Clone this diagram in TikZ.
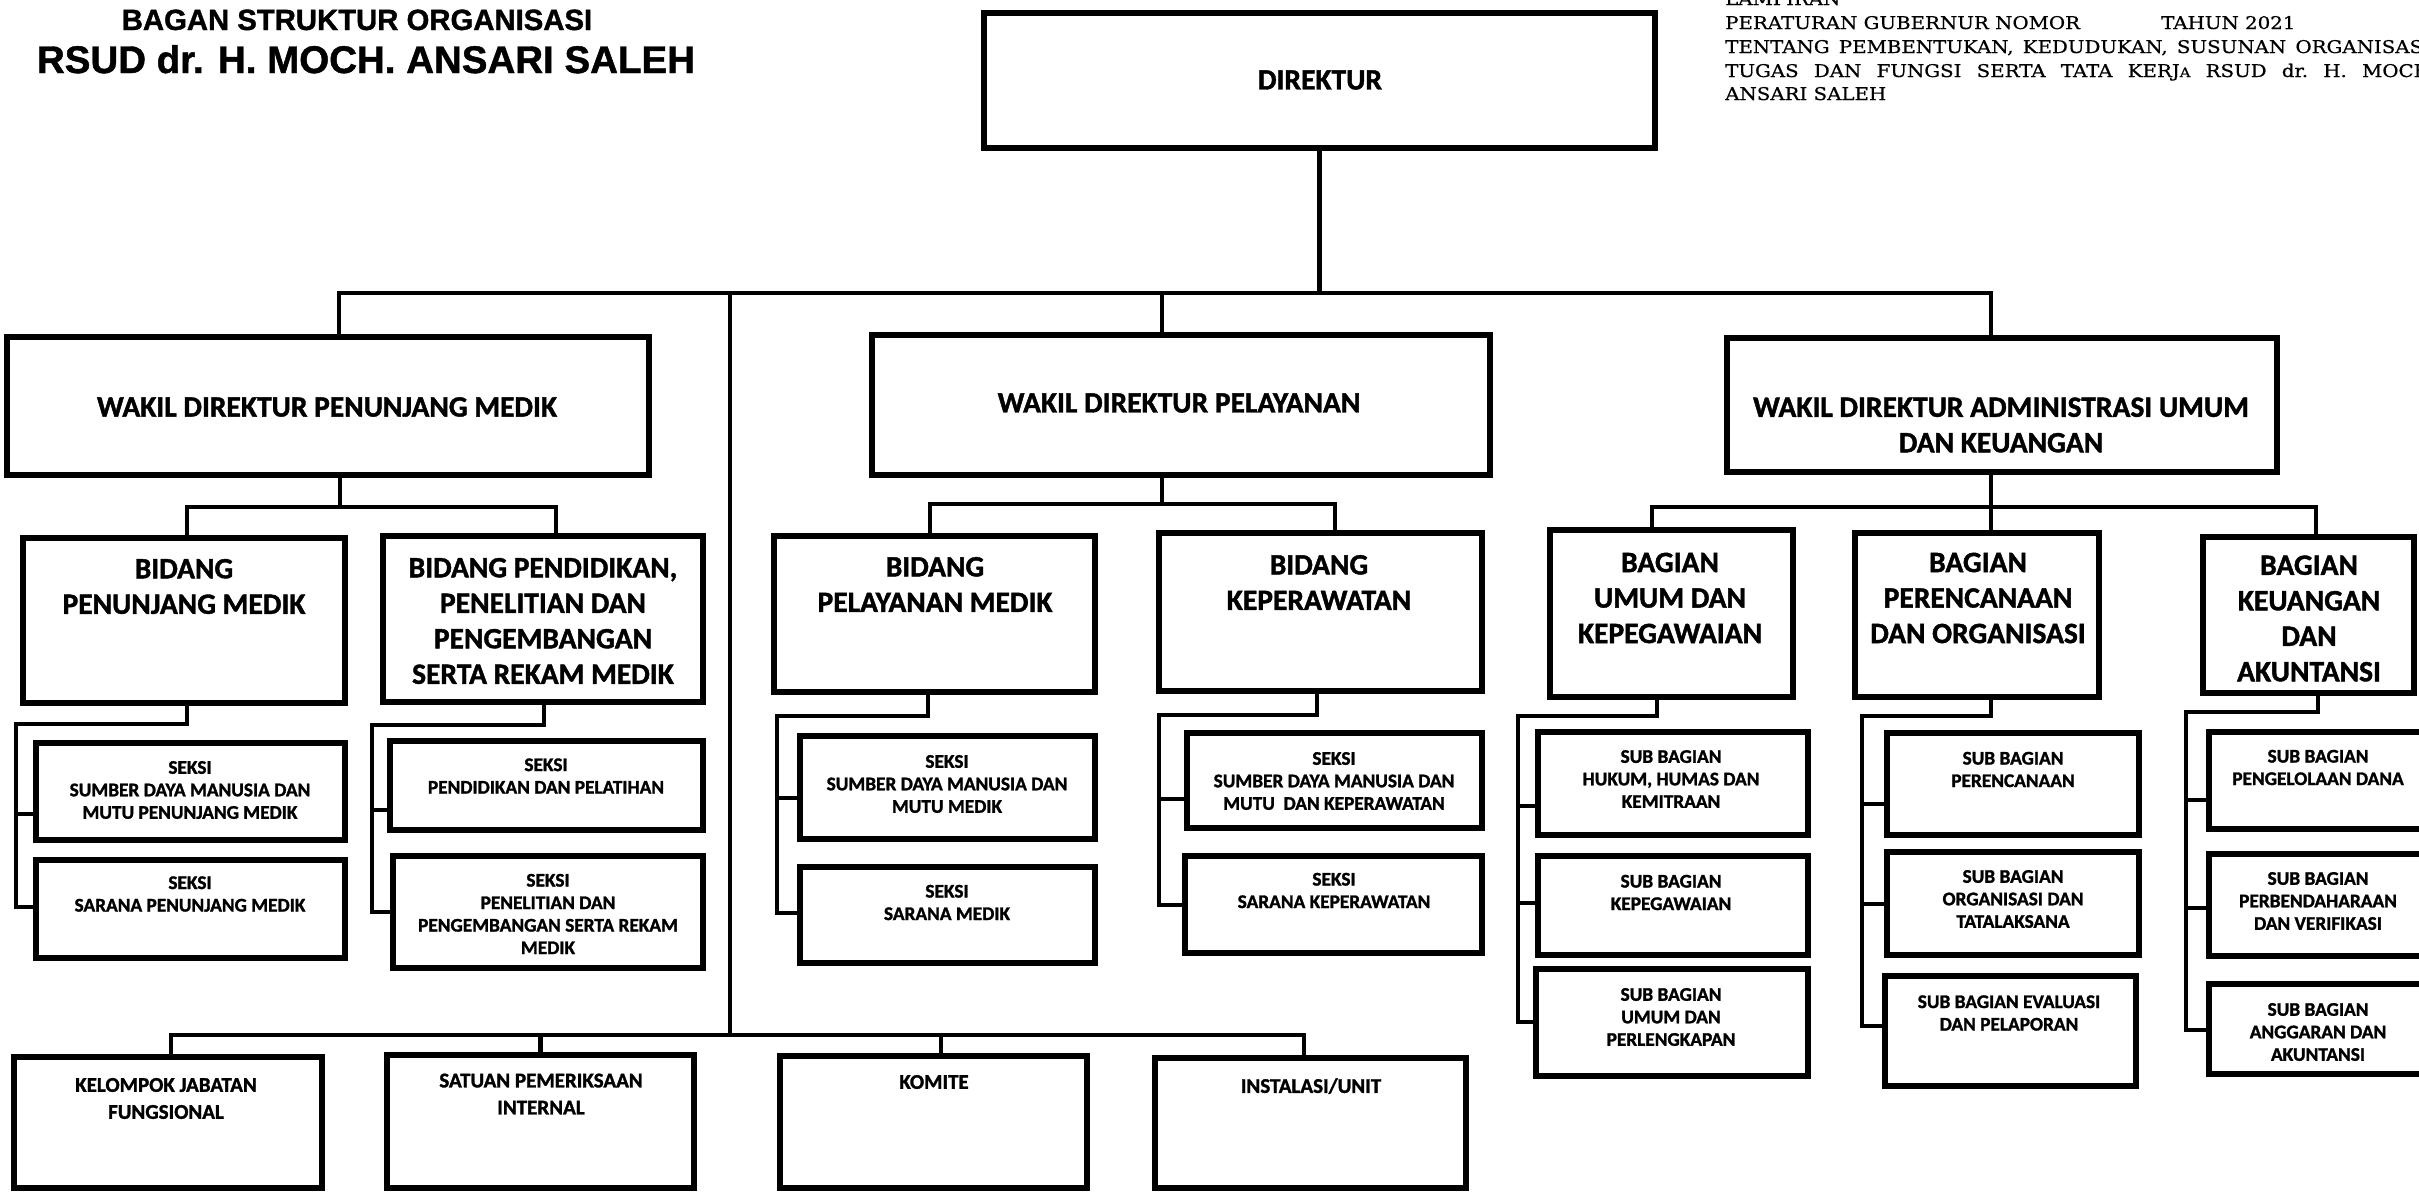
\documentclass[tikz,border=0pt]{standalone}
\usepackage{fontspec}
\newfontfamily\carl{Carlito}[BoldFeatures={FakeBold=1.4}]
\newfontfamily\arialf{Liberation Sans}[BoldFeatures={FakeBold=1.2}]
\newfontfamily\lampf{DejaVu Serif}[FakeStretch=1.13,FakeBold=0.7]
\newcommand\mkbox[5]{%
  \pgfmathsetmacro\mkbw{#4-#2}%
  \pgfmathsetmacro\mkbh{#5-#3}%
  \pgfmathsetmacro\mkcx{(#2+#4)/2}%
  \pgfmathsetmacro\mkcy{(#3+#5)/2}%
  \node[box, minimum width=\mkbw pt, minimum height=\mkbh pt] (#1) at (\mkcx,\mkcy) {};}
\tikzset{
  box/.style={draw, line width=5.5pt, inner sep=0pt, outer sep=0pt},
  conn/.style={draw, line width=4.5pt, line cap=rect, line join=miter},
  bigtxt/.style={font=\carl\bfseries\fontsize{29.5}{35.5}\selectfont, align=center, inner sep=0pt},
  smalltxt/.style={font=\carl\bfseries\fontsize{19.3}{22.5}\selectfont, align=center, inner sep=0pt},
  midtxt/.style={font=\carl\bfseries\fontsize{21}{27}\selectfont, align=center, inner sep=0pt},
  lamp/.style={font=\lampf\fontsize{17.5}{22}\selectfont, anchor=base west, inner sep=0pt},
  ttl/.style={anchor=base, inner sep=0pt},
}
\begin{document}
\begin{tikzpicture}[x=1pt,y=-1pt]
\useasboundingbox (0,0) rectangle (2419,1194);
\clip (0,0) rectangle (2419,1194);

% ---- titles
\node[ttl, font=\arialf\bfseries\fontsize{29.3}{34}\selectfont] (title1) at (357,30) {BAGAN STRUKTUR ORGANISASI};
\node[ttl, font=\arialf\bfseries\fontsize{38.5}{42}\selectfont] (title2) at (366,73) {RSUD dr. H. MOCH. ANSARI SALEH};

\node[lamp] (lp0) at (1725,5) {LAMPIRAN};
\node[lamp] (lp1) at (1725,29) {PERATURAN GUBERNUR NOMOR};
\node[lamp] (lp1b) at (2161,29) {TAHUN 2021};
\node[lamp] (lp2) at (1725,53) {\makebox[712pt][s]{TENTANG PEMBENTUKAN, KEDUDUKAN, SUSUNAN ORGANISASI,}};
\node[lamp] (lp3) at (1725,77) {\makebox[712pt][s]{TUGAS DAN FUNGSI SERTA TATA KERJ{\fontsize{13}{13}\selectfont A} RSUD dr.\ H.\ MOCH.}};
\node[lamp] (lp4) at (1725,100) {ANSARI SALEH};

% ---- boxes
\mkbox{dir}{984}{13}{1655}{148}
\mkbox{wpm}{7}{337}{649}{475}
\mkbox{wpl}{872}{335}{1490}{475}
\mkbox{wadm}{1727}{338}{2277}{472}
\mkbox{bpm}{23}{538}{345}{703}
\mkbox{bpp}{383}{536}{703}{702}
\mkbox{pm1}{36}{743}{345}{840}
\mkbox{pm2}{36}{860}{345}{958}
\mkbox{pp1}{390}{741}{703}{830}
\mkbox{pp2}{393}{856}{703}{968}
\mkbox{bpl}{774}{536}{1095}{692}
\mkbox{bkp}{1159}{533}{1482}{691}
\mkbox{pl1}{800}{736}{1095}{839}
\mkbox{pl2}{800}{867}{1095}{963}
\mkbox{kp1}{1187}{733}{1482}{828}
\mkbox{kp2}{1185}{856}{1482}{953}
\mkbox{buk}{1550}{530}{1793}{697}
\mkbox{bpo}{1855}{533}{2099}{697}
\mkbox{bka}{2203}{537}{2414}{693}
\mkbox{uk1}{1538}{732}{1808}{835}
\mkbox{uk2}{1538}{856}{1808}{955}
\mkbox{uk3}{1536}{969}{1808}{1076}
\mkbox{po1}{1887}{733}{2139}{835}
\mkbox{po2}{1887}{852}{2139}{955}
\mkbox{po3}{1885}{976}{2136}{1086}
\mkbox{ka1}{2209}{732}{2440}{829}
\mkbox{ka2}{2209}{854}{2440}{956}
\mkbox{ka3}{2209}{984}{2440}{1074}
\mkbox{kjf}{14}{1057}{322}{1188}
\mkbox{spi}{387}{1055}{694}{1188}
\mkbox{komite}{780}{1056}{1087}{1188}
\mkbox{inst}{1155}{1058}{1466}{1188}

% ---- texts
\node[bigtxt] (dirT) at (1320,80) {DIREKTUR};
\node[bigtxt] (wpmT) at (327,407) {WAKIL DIREKTUR PENUNJANG MEDIK};
\node[bigtxt] (wplT) at (1179,403) {WAKIL DIREKTUR PELAYANAN};
\node[bigtxt] (wadmT) at (2001,425) {WAKIL DIREKTUR ADMINISTRASI UMUM\\DAN KEUANGAN};
\node[bigtxt] (bpmT) at (184,586.5) {BIDANG\\PENUNJANG MEDIK};
\node[bigtxt] (bppT) at (543,621) {BIDANG PENDIDIKAN,\\PENELITIAN DAN\\PENGEMBANGAN\\SERTA REKAM MEDIK};
\node[bigtxt] (bplT) at (935,584.5) {BIDANG\\PELAYANAN MEDIK};
\node[bigtxt] (bkpT) at (1319,582.5) {BIDANG\\KEPERAWATAN};
\node[bigtxt] (bukT) at (1670,598) {BAGIAN\\UMUM DAN\\KEPEGAWAIAN};
\node[bigtxt] (bpoT) at (1978,598) {BAGIAN\\PERENCANAAN\\DAN ORGANISASI};
\node[bigtxt] (bkaT) at (2309,618.5) {BAGIAN\\KEUANGAN\\DAN\\AKUNTANSI};

\node[smalltxt] (pm1T) at (190,790) {SEKSI\\SUMBER DAYA MANUSIA DAN\\MUTU PENUNJANG MEDIK};
\node[smalltxt] (pm2T) at (190,894) {SEKSI\\SARANA PENUNJANG MEDIK};
\node[smalltxt] (pp1T) at (546,776) {SEKSI\\PENDIDIKAN DAN PELATIHAN};
\node[smalltxt] (pp2T) at (548,914) {SEKSI\\PENELITIAN DAN\\PENGEMBANGAN SERTA REKAM\\MEDIK};
\node[smalltxt] (pl1T) at (947,784) {SEKSI\\SUMBER DAYA MANUSIA DAN\\MUTU MEDIK};
\node[smalltxt] (pl2T) at (947,902.5) {SEKSI\\SARANA MEDIK};
\node[smalltxt] (kp1T) at (1334,781) {SEKSI\\SUMBER DAYA MANUSIA DAN\\MUTU~~DAN KEPERAWATAN};
\node[smalltxt] (kp2T) at (1334,890.5) {SEKSI\\SARANA KEPERAWATAN};
\node[smalltxt] (uk1T) at (1671,779) {SUB BAGIAN\\HUKUM, HUMAS DAN\\KEMITRAAN};
\node[smalltxt] (uk2T) at (1671,892.5) {SUB BAGIAN\\KEPEGAWAIAN};
\node[smalltxt] (uk3T) at (1671,1017) {SUB BAGIAN\\UMUM DAN\\PERLENGKAPAN};
\node[smalltxt] (po1T) at (2013,769.5) {SUB BAGIAN\\PERENCANAAN};
\node[smalltxt] (po2T) at (2013,899) {SUB BAGIAN\\ORGANISASI DAN\\TATALAKSANA};
\node[smalltxt] (po3T) at (2009,1013) {SUB BAGIAN EVALUASI\\DAN PELAPORAN};
\node[smalltxt] (ka1T) at (2318,767.5) {SUB BAGIAN\\PENGELOLAAN DANA};
\node[smalltxt] (ka2T) at (2318,901) {SUB BAGIAN\\PERBENDAHARAAN\\DAN VERIFIKASI};
\node[smalltxt] (ka3T) at (2318,1032) {SUB BAGIAN\\ANGGARAN DAN\\AKUNTANSI};

\node[midtxt] (kjfT) at (166,1098.5) {KELOMPOK JABATAN\\FUNGSIONAL};
\node[midtxt] (spiT) at (541,1094) {SATUAN PEMERIKSAAN\\INTERNAL};
\node[midtxt] (komT) at (934,1082) {KOMITE};
\node[midtxt] (instT) at (1311,1086) {INSTALASI/UNIT};

% ---- connector coordinates
\coordinate (mbL) at (339,293);
\coordinate (mbR) at (1991,293);
\coordinate (mbA) at (1162,293);
\coordinate (mbB) at (730,293);
\coordinate (lbL) at (171,1035);
\coordinate (lbR) at (1304,1035);
\coordinate (lbK) at (941,1035);

\coordinate (pmA) at (340,507);
\coordinate (pmL) at (187,507);
\coordinate (pmR) at (556,507);
\coordinate (bpmA) at (187,724);
\coordinate (bpmL) at (16,724);
\coordinate (bpmS1) at (16,814);
\coordinate (bpmS2) at (16,907);
\coordinate (bppA) at (544,725);
\coordinate (bppL) at (372,725);
\coordinate (bppS1) at (372,810);
\coordinate (bppS2) at (372,912);

\coordinate (plA) at (1162,504);
\coordinate (plL) at (930,504);
\coordinate (plR) at (1335,504);
\coordinate (bplA) at (928,716);
\coordinate (bplL) at (777,716);
\coordinate (bplS1) at (777,798);
\coordinate (bplS2) at (777,913);
\coordinate (bkpA) at (1317,715);
\coordinate (bkpL) at (1159,715);
\coordinate (bkpS1) at (1159,799);
\coordinate (bkpS2) at (1159,905);

\coordinate (adA) at (1991,507);
\coordinate (adL) at (1652,507);
\coordinate (adR) at (2316,507);
\coordinate (bukA) at (1657,716);
\coordinate (bukL) at (1518,716);
\coordinate (bukS1) at (1518,806);
\coordinate (bukS2) at (1518,903);
\coordinate (bukS3) at (1518,1022);
\coordinate (bpoA) at (1991,716);
\coordinate (bpoL) at (1862,716);
\coordinate (bpoS1) at (1862,804);
\coordinate (bpoS2) at (1862,904);
\coordinate (bpoS3) at (1862,1026);
\coordinate (bkaA) at (2318,712);
\coordinate (bkaL) at (2186,712);
\coordinate (bkaS1) at (2186,800);
\coordinate (bkaS2) at (2186,908);
\coordinate (bkaS3) at (2186,1030);

% ---- connectors: top level
\draw[conn] (dir.south) -- (dir.south |- mbL);
\draw[conn] (mbL |- wpm.north) -- (mbL) -- (mbR) -- (mbR |- wadm.north);
\draw[conn] (mbA) -- (mbA |- wpl.north);
\draw[conn] (mbB) -- (mbB |- lbL);
\draw[conn] (lbL |- kjf.north) -- (lbL) -- (lbR) -- (lbR |- inst.north);
\draw[conn] (spi.north) -- (spi.north |- lbL);
\draw[conn] (lbK) -- (lbK |- komite.north);

% wakil penunjang medik
\draw[conn] (wpm.south -| pmA) -- (pmA);
\draw[conn] (pmL |- bpm.north) -- (pmL) -- (pmR) -- (pmR |- bpp.north);
\draw[conn] (bpm.south -| bpmA) -- (bpmA) -- (bpmL) -- (bpmS2) -- (bpmS2 -| pm2.west);
\draw[conn] (bpmS1) -- (bpmS1 -| pm1.west);
\draw[conn] (bpp.south -| bppA) -- (bppA) -- (bppL) -- (bppS2) -- (bppS2 -| pp2.west);
\draw[conn] (bppS1) -- (bppS1 -| pp1.west);

% wakil pelayanan
\draw[conn] (wpl.south -| plA) -- (plA);
\draw[conn] (plL |- bpl.north) -- (plL) -- (plR) -- (plR |- bkp.north);
\draw[conn] (bpl.south -| bplA) -- (bplA) -- (bplL) -- (bplS2) -- (bplS2 -| pl2.west);
\draw[conn] (bplS1) -- (bplS1 -| pl1.west);
\draw[conn] (bkp.south -| bkpA) -- (bkpA) -- (bkpL) -- (bkpS2) -- (bkpS2 -| kp2.west);
\draw[conn] (bkpS1) -- (bkpS1 -| kp1.west);

% wakil administrasi
\draw[conn] (wadm.south -| adA) -- (adA);
\draw[conn] (adL |- buk.north) -- (adL) -- (adR) -- (adR |- bka.north);
\draw[conn] (adA) -- (adA |- bpo.north);
\draw[conn] (buk.south -| bukA) -- (bukA) -- (bukL) -- (bukS3) -- (bukS3 -| uk3.west);
\draw[conn] (bukS1) -- (bukS1 -| uk1.west);
\draw[conn] (bukS2) -- (bukS2 -| uk2.west);
\draw[conn] (bpo.south -| bpoA) -- (bpoA) -- (bpoL) -- (bpoS3) -- (bpoS3 -| po3.west);
\draw[conn] (bpoS1) -- (bpoS1 -| po1.west);
\draw[conn] (bpoS2) -- (bpoS2 -| po2.west);
\draw[conn] (bka.south -| bkaA) -- (bkaA) -- (bkaL) -- (bkaS3) -- (bkaS3 -| ka3.west);
\draw[conn] (bkaS1) -- (bkaS1 -| ka1.west);
\draw[conn] (bkaS2) -- (bkaS2 -| ka2.west);
\end{tikzpicture}
\end{document}
